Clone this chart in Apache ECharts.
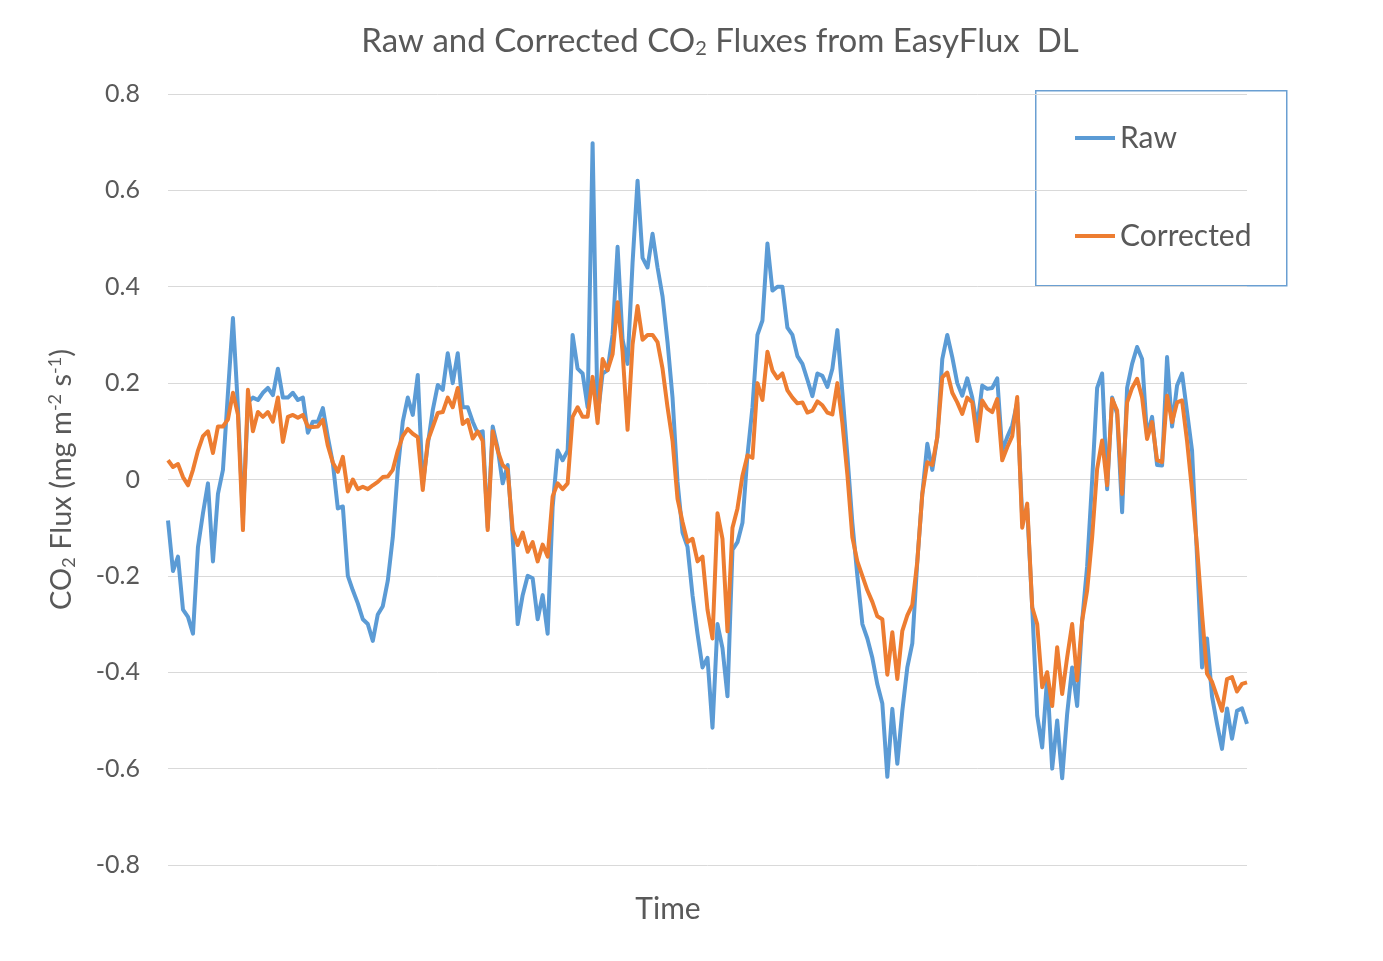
<!DOCTYPE html>
<html>
<head>
<meta charset="utf-8">
<script src="https://cdn.jsdelivr.net/npm/echarts@6/dist/echarts.min.js"></script>
<style>html,body{margin:0;padding:0;background:#fff;}#c{width:1383px;height:961px;}</style>
</head>
<body>
<div id="c"></div>
<script>
const rawFlux = [-0.085, -0.19, -0.16, -0.27, -0.285, -0.32, -0.14, -0.07, -0.008, -0.17,
 -0.03, 0.02, 0.18, 0.335, 0.15, -0.08, 0.16, 0.17, 0.165, 0.18,
 0.19, 0.175, 0.23, 0.17, 0.17, 0.18, 0.165, 0.17, 0.097, 0.12,
 0.12, 0.148, 0.088, 0.034, -0.06, -0.056, -0.2, -0.23, -0.257, -0.29,
 -0.30, -0.335, -0.28, -0.263, -0.21, -0.12, 0.02, 0.12, 0.17, 0.134,
 0.217, -0.01, 0.072, 0.144, 0.196, 0.186, 0.262, 0.2, 0.262, 0.15,
 0.15, 0.12, 0.096, 0.1, -0.1, 0.11, 0.065, -0.008, 0.03, -0.12,
 -0.3, -0.24, -0.2, -0.205, -0.29, -0.24, -0.32, -0.057, 0.06, 0.04,
 0.06, 0.3, 0.23, 0.22, 0.15, 0.698, 0.13, 0.22, 0.227, 0.3,
 0.483, 0.29, 0.24, 0.45, 0.62, 0.46, 0.44, 0.51, 0.44, 0.38,
 0.285, 0.17, -0.005, -0.11, -0.14, -0.24, -0.32, -0.39, -0.37, -0.515,
 -0.3, -0.35, -0.45, -0.146, -0.13, -0.09, 0.05, 0.15, 0.3, 0.33,
 0.49, 0.392, 0.4, 0.4, 0.315, 0.3, 0.256, 0.24, 0.207, 0.173,
 0.22, 0.215, 0.192, 0.23, 0.31, 0.18, 0.05, -0.09, -0.2, -0.3,
 -0.33, -0.37, -0.425, -0.465, -0.617, -0.476, -0.59, -0.48, -0.39, -0.34,
 -0.17, -0.03, 0.074, 0.02, 0.088, 0.25, 0.3, 0.254, 0.2, 0.174,
 0.21, 0.17, 0.11, 0.195, 0.188, 0.19, 0.21, 0.06, 0.088, 0.112,
 0.16, -0.08, -0.06, -0.265, -0.49, -0.556, -0.41, -0.6, -0.5, -0.62,
 -0.486, -0.39, -0.47, -0.293, -0.18, -0.002, 0.19, 0.22, -0.02, 0.17,
 0.136, -0.068, 0.19, 0.24, 0.275, 0.25, 0.09, 0.13, 0.03, 0.029,
 0.254, 0.11, 0.195, 0.22, 0.14, 0.06, -0.161, -0.39, -0.33, -0.45,
 -0.507, -0.559, -0.475, -0.538, -0.48, -0.475, -0.507];

const correctedFlux = [0.04, 0.026, 0.032, 0.005, -0.012, 0.02, 0.06, 0.09, 0.10, 0.055,
 0.11, 0.11, 0.125, 0.18, 0.135, -0.105, 0.186, 0.1, 0.14, 0.13,
 0.14, 0.12, 0.17, 0.078, 0.13, 0.134, 0.128, 0.134, 0.11, 0.109,
 0.11, 0.124, 0.07, 0.035, 0.016, 0.047, -0.025, 0.0, -0.02, -0.015,
 -0.02, -0.012, -0.005, 0.005, 0.006, 0.02, 0.06, 0.09, 0.105, 0.095,
 0.088, -0.022, 0.08, 0.109, 0.138, 0.14, 0.17, 0.15, 0.19, 0.115,
 0.124, 0.085, 0.1, 0.08, -0.105, 0.1, 0.06, 0.03, 0.02, -0.105,
 -0.136, -0.11, -0.15, -0.13, -0.17, -0.135, -0.16, -0.035, -0.008, -0.02,
 -0.008, 0.13, 0.15, 0.13, 0.13, 0.213, 0.117, 0.25, 0.227, 0.26,
 0.368, 0.265, 0.103, 0.28, 0.36, 0.29, 0.3, 0.3, 0.285, 0.23,
 0.15, 0.08, -0.04, -0.088, -0.13, -0.123, -0.17, -0.16, -0.27, -0.33,
 -0.07, -0.123, -0.315, -0.1, -0.06, 0.008, 0.05, 0.045, 0.2, 0.165,
 0.265, 0.226, 0.21, 0.22, 0.185, 0.17, 0.158, 0.16, 0.139, 0.143,
 0.162, 0.154, 0.139, 0.135, 0.2, 0.117, 0.01, -0.12, -0.17, -0.2,
 -0.23, -0.254, -0.284, -0.29, -0.405, -0.317, -0.414, -0.314, -0.282, -0.26,
 -0.17, -0.03, 0.036, 0.03, 0.088, 0.212, 0.222, 0.18, 0.16, 0.136,
 0.17, 0.16, 0.08, 0.164, 0.147, 0.14, 0.167, 0.04, 0.067, 0.09,
 0.171, -0.1, -0.05, -0.265, -0.3, -0.431, -0.4, -0.47, -0.348, -0.445,
 -0.369, -0.3, -0.417, -0.293, -0.23, -0.12, 0.022, 0.081, -0.012, 0.167,
 0.143, -0.03, 0.16, 0.19, 0.209, 0.17, 0.084, 0.119, 0.04, 0.036,
 0.174, 0.119, 0.16, 0.164, 0.08, -0.023, -0.14, -0.28, -0.403, -0.42,
 -0.45, -0.48, -0.414, -0.41, -0.44, -0.424, -0.421];

const timeSteps = rawFlux.map((_, i) => i + 1);
const seriesNames = ['Raw', 'Corrected'];
const yTicks = { min: -0.8, max: 0.8, interval: 0.2 };

const FONT = 'Lato, "Open Sans", sans-serif';
const TXT = '#595959';

const chart = echarts.init(document.getElementById('c'), null, { renderer: 'canvas' });
chart.setOption({
  backgroundColor: '#ffffff',
  animation: false,
  title: {
    text: 'Raw and Corrected CO{sub|2} Fluxes from EasyFlux  DL',
    left: 715, top: 18, textAlign: 'center',
    textStyle: {
      fontFamily: FONT, fontSize: 33, fontWeight: 'normal', color: TXT,
      rich: { sub: { fontFamily: FONT, fontSize: 20, color: TXT, padding: [16, 0, 0, 0] } }
    }
  },
  grid: { left: 168, right: 136, top: 94, bottom: 96, containLabel: false },
  legend: {
    data: seriesNames,
    orient: 'vertical',
    left: 1075, top: 121,
    icon: 'rect', itemWidth: 40, itemHeight: 4,
    itemGap: 64,
    padding: 0,
    textStyle: { fontFamily: FONT, fontSize: 30, color: TXT, lineHeight: 34 }
  },
  xAxis: {
    type: 'category', data: timeSteps, boundaryGap: false,
    axisLine: { show: false }, axisTick: { show: false }, axisLabel: { show: false },
    splitLine: { show: false }
  },
  yAxis: {
    type: 'value', min: yTicks.min, max: yTicks.max, interval: yTicks.interval,
    name: 'CO{sub|2} Flux (mg m{sup|-2} s{sup|-1})',
    nameLocation: 'middle', nameGap: 90, nameRotate: 90,
    nameTextStyle: {
      fontFamily: FONT, fontSize: 29, color: TXT,
      rich: {
        sub: { fontFamily: FONT, fontSize: 18, color: TXT, padding: [14, 0, 0, 0] },
        sup: { fontFamily: FONT, fontSize: 18, color: TXT, padding: [0, 0, 14, 0] }
      }
    },
    axisLine: { show: false }, axisTick: { show: false },
    axisLabel: {
      fontFamily: FONT, fontSize: 25, color: TXT, margin: 28,
      formatter: v => (Math.abs(v) < 1e-9 ? '0' : v.toFixed(1))
    },
    splitLine: { lineStyle: { color: '#d9d9d9', width: 1 } }
  },
  graphic: [
    { type: 'rect', left: 1035, top: 90, shape: { width: 251, height: 195 },
      style: { fill: '#ffffff', stroke: '#6a9fd2', lineWidth: 1.5 }, z: 0, silent: true },
    { type: 'text', x: 668, y: 909,
      style: { text: 'Time', fontFamily: FONT, fontSize: 30, fill: TXT, align: 'center', verticalAlign: 'middle' } }
  ],
  series: [
    { name: seriesNames[0], type: 'line', data: rawFlux, showSymbol: false, symbol: 'none',
      lineStyle: { color: '#5b9bd5', width: 4, join: 'round' }, itemStyle: { color: '#5b9bd5' }, z: 3 },
    { name: seriesNames[1], type: 'line', data: correctedFlux, showSymbol: false, symbol: 'none',
      lineStyle: { color: '#ed7d31', width: 4, join: 'round' }, itemStyle: { color: '#ed7d31' }, z: 4 }
  ]
});
</script>
</body>
</html>
